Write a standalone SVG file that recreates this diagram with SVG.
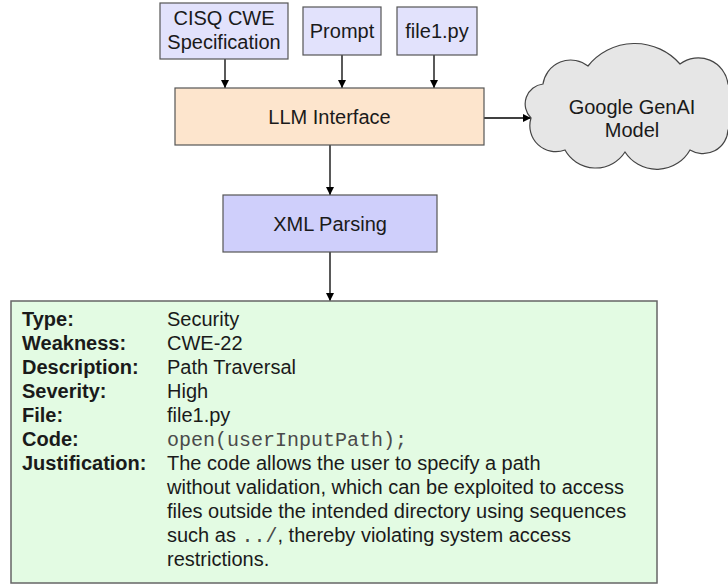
<svg xmlns="http://www.w3.org/2000/svg" width="728" height="585" viewBox="0 0 728 585">
<style>
text{font-family:"Liberation Sans",Arial,Helvetica,sans-serif;font-size:20px;fill:#1a1a1a}
.c{text-anchor:middle}
.b{font-weight:bold}
.m{font-family:"Liberation Mono","Courier New",monospace;fill:#4a4a4a}
.in{fill:#e2e2fc;stroke:#555;stroke-width:1.2}
.llm{fill:#fde5cd;stroke:#555;stroke-width:1.2}
.xml{fill:#cfcffb;stroke:#555;stroke-width:1.2}
.res{fill:#e3fbe3;stroke:#666;stroke-width:1.5}
.cloud{fill:#e6e6e6;stroke:#444;stroke-width:1.2}
.arr{stroke:#000;stroke-width:1.3;fill:none;marker-end:url(#ah)}
</style>
<defs>
<marker id="ah" viewBox="0 0 10 10" refX="10" refY="5" markerWidth="8" markerHeight="8" markerUnits="userSpaceOnUse" orient="auto">
<path d="M0,0 L10,5 L0,10 Z" fill="#000"/>
</marker>
</defs>
<g id="connectors">
<line class="arr" x1="225" y1="59" x2="225" y2="88"/>
<line class="arr" x1="342" y1="55" x2="342" y2="88"/>
<line class="arr" x1="434" y1="55" x2="434" y2="88"/>
<line class="arr" x1="484" y1="118" x2="531" y2="118"/>
<line class="arr" x1="330" y1="145" x2="330" y2="195"/>
<line class="arr" x1="330" y1="252" x2="330" y2="301"/>
</g>
<g id="cisq">
<rect class="in" x="160" y="3" width="128" height="56"/>
<text class="c" x="224" y="25">CISQ CWE</text>
<text class="c" x="224" y="49">Specification</text>
</g>
<g id="prompt">
<rect class="in" x="303" y="7" width="78" height="48"/>
<text class="c" x="342" y="38">Prompt</text>
</g>
<g id="file1">
<rect class="in" x="397" y="7" width="80" height="48"/>
<text class="c" x="437" y="38">file1.py</text>
</g>
<g id="llm">
<rect class="llm" x="175" y="88" width="309" height="57"/>
<text class="c" x="329.5" y="124">LLM Interface</text>
</g>
<g id="genai">
<path class="cloud" d="M531,118 A20,20 0 0 1 543,84 A28,28 0 0 1 588,66 A60,60 0 0 1 680,64 A30,30 0 0 1 728,84 A30,30 0 0 1 728,130 A25,25 0 0 1 690,150 A38,38 0 0 1 625,152 A35,35 0 0 1 565,150 A26,26 0 0 1 531,118 Z"/>
<text class="c" x="632" y="114">Google GenAI</text>
<text class="c" x="632" y="137">Model</text>
</g>
<g id="xml">
<rect class="xml" x="223" y="195" width="214" height="57"/>
<text class="c" x="330" y="231">XML Parsing</text>
</g>
<g id="result">
<rect class="res" x="11" y="301" width="646" height="282"/>
<text class="b" x="22" y="326">Type:</text>
<text x="167" y="326">Security</text>
<text class="b" x="22" y="350">Weakness:</text>
<text x="167" y="350">CWE-22</text>
<text class="b" x="22" y="374">Description:</text>
<text x="167" y="374">Path Traversal</text>
<text class="b" x="22" y="398">Severity:</text>
<text x="167" y="398">High</text>
<text class="b" x="22" y="422">File:</text>
<text x="167" y="422">file1.py</text>
<text class="b" x="22" y="446">Code:</text>
<text class="m" x="167" y="446">open(userInputPath);</text>
<text class="b" x="22" y="470">Justification:</text>
<text x="167" y="470">The code allows the user to specify a path</text>
<text x="167" y="494">without validation, which can be exploited to access</text>
<text x="167" y="518">files outside the intended directory using sequences</text>
<text x="167" y="542">such as <tspan class="m">../</tspan>, thereby violating system access</text>
<text x="167" y="566">restrictions.</text>
</g>
</svg>
